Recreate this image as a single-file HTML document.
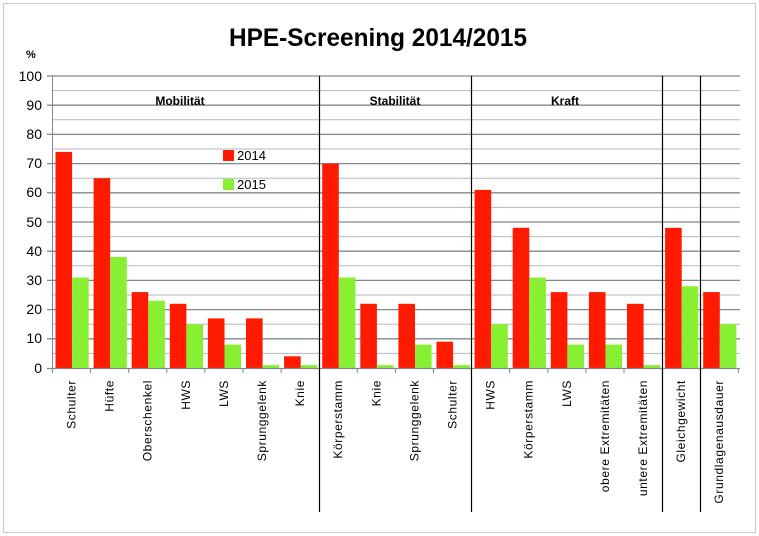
<!DOCTYPE html>
<html><head><meta charset="utf-8"><style>body{margin:0;background:#fff}svg{display:block}</style></head><body>
<svg width="759" height="536" xmlns="http://www.w3.org/2000/svg" font-family="Liberation Sans, sans-serif">
<rect x="3.5" y="3.5" width="752" height="529" fill="#fff" stroke="#c8c8c8"/>
<text x="378" y="46" font-size="25" font-weight="bold" text-anchor="middle" textLength="298" lengthAdjust="spacingAndGlyphs">HPE-Screening 2014/2015</text>
<text x="26" y="58" font-size="11" font-weight="bold">%</text>
<g stroke="#b0b8c0" stroke-width="1">
<line x1="52" x2="740" y1="90.6" y2="90.6"/><line x1="52" x2="740" y1="119.8" y2="119.8"/><line x1="52" x2="740" y1="149" y2="149"/><line x1="52" x2="740" y1="178.2" y2="178.2"/><line x1="52" x2="740" y1="207.4" y2="207.4"/><line x1="52" x2="740" y1="236.6" y2="236.6"/><line x1="52" x2="740" y1="265.8" y2="265.8"/><line x1="52" x2="740" y1="295" y2="295"/><line x1="52" x2="740" y1="324.2" y2="324.2"/><line x1="52" x2="740" y1="353.4" y2="353.4"/>
</g>
<g stroke="#7f8890" stroke-width="1.3">
<line x1="47" x2="740" y1="76" y2="76"/><line x1="47" x2="740" y1="105.2" y2="105.2"/><line x1="47" x2="740" y1="134.4" y2="134.4"/><line x1="47" x2="740" y1="163.6" y2="163.6"/><line x1="47" x2="740" y1="192.8" y2="192.8"/><line x1="47" x2="740" y1="222" y2="222"/><line x1="47" x2="740" y1="251.2" y2="251.2"/><line x1="47" x2="740" y1="280.4" y2="280.4"/><line x1="47" x2="740" y1="309.6" y2="309.6"/><line x1="47" x2="740" y1="338.8" y2="338.8"/>
</g>
<g font-size="14" text-anchor="end" fill="#000">
<text x="42" y="81">100</text><text x="42" y="110">90</text><text x="42" y="139">80</text><text x="42" y="168">70</text><text x="42" y="197">60</text><text x="42" y="227">50</text><text x="42" y="256">40</text><text x="42" y="285">30</text><text x="42" y="314">20</text><text x="42" y="343">10</text><text x="42" y="373">0</text>
</g>
<g font-size="12" font-weight="bold" text-anchor="middle">
<text x="180" y="105">Mobilität</text><text x="395" y="105">Stabilität</text><text x="565" y="105">Kraft</text>
</g>
<g fill="#ff1a00">
<rect x="55.5" y="151.9" width="16.6" height="216.1"/>
<rect x="93.6" y="178.2" width="16.6" height="189.8"/>
<rect x="131.7" y="292.1" width="16.6" height="75.9"/>
<rect x="169.8" y="303.8" width="16.6" height="64.2"/>
<rect x="207.9" y="318.4" width="16.6" height="49.6"/>
<rect x="246" y="318.4" width="16.6" height="49.6"/>
<rect x="284.1" y="356.3" width="16.6" height="11.7"/>
<rect x="322.2" y="163.6" width="16.6" height="204.4"/>
<rect x="360.3" y="303.8" width="16.6" height="64.2"/>
<rect x="398.4" y="303.8" width="16.6" height="64.2"/>
<rect x="436.5" y="341.7" width="16.6" height="26.3"/>
<rect x="474.6" y="189.9" width="16.6" height="178.1"/>
<rect x="512.7" y="227.8" width="16.6" height="140.2"/>
<rect x="550.8" y="292.1" width="16.6" height="75.9"/>
<rect x="588.9" y="292.1" width="16.6" height="75.9"/>
<rect x="627" y="303.8" width="16.6" height="64.2"/>
<rect x="665.1" y="227.8" width="16.6" height="140.2"/>
<rect x="703.2" y="292.1" width="16.6" height="75.9"/>
</g>
<g fill="#88f033">
<rect x="72.1" y="277.5" width="16.6" height="90.5"/>
<rect x="110.2" y="257" width="16.6" height="111"/>
<rect x="148.3" y="300.8" width="16.6" height="67.2"/>
<rect x="186.4" y="324.2" width="16.6" height="43.8"/>
<rect x="224.5" y="344.6" width="16.6" height="23.4"/>
<rect x="262.6" y="365.1" width="16.6" height="2.9"/>
<rect x="300.7" y="365.1" width="16.6" height="2.9"/>
<rect x="338.8" y="277.5" width="16.6" height="90.5"/>
<rect x="376.9" y="365.1" width="16.6" height="2.9"/>
<rect x="415" y="344.6" width="16.6" height="23.4"/>
<rect x="453.1" y="365.1" width="16.6" height="2.9"/>
<rect x="491.2" y="324.2" width="16.6" height="43.8"/>
<rect x="529.3" y="277.5" width="16.6" height="90.5"/>
<rect x="567.4" y="344.6" width="16.6" height="23.4"/>
<rect x="605.5" y="344.6" width="16.6" height="23.4"/>
<rect x="643.6" y="365.1" width="16.6" height="2.9"/>
<rect x="681.7" y="286.2" width="16.6" height="81.8"/>
<rect x="719.8" y="324.2" width="16.6" height="43.8"/>
</g>
<line x1="47" x2="740" y1="368.5" y2="368.5" stroke="#7f8890" stroke-width="1.3"/>
<line x1="52.5" x2="52.5" y1="76" y2="373" stroke="#7f8890"/>
<g stroke="#7f8890">
<line x1="90.6" x2="90.6" y1="368" y2="373"/><line x1="128.7" x2="128.7" y1="368" y2="373"/><line x1="166.8" x2="166.8" y1="368" y2="373"/><line x1="204.9" x2="204.9" y1="368" y2="373"/><line x1="243" x2="243" y1="368" y2="373"/><line x1="281.1" x2="281.1" y1="368" y2="373"/><line x1="357.3" x2="357.3" y1="368" y2="373"/><line x1="395.4" x2="395.4" y1="368" y2="373"/><line x1="433.5" x2="433.5" y1="368" y2="373"/><line x1="509.7" x2="509.7" y1="368" y2="373"/><line x1="547.8" x2="547.8" y1="368" y2="373"/><line x1="585.9" x2="585.9" y1="368" y2="373"/><line x1="624" x2="624" y1="368" y2="373"/><line x1="738.3" x2="738.3" y1="368" y2="373"/>
</g>
<g stroke="#000" stroke-width="1.2">
<line x1="319.5" x2="319.5" y1="76" y2="512"/><line x1="471.5" x2="471.5" y1="76" y2="512"/><line x1="662.5" x2="662.5" y1="76" y2="512"/><line x1="700.5" x2="700.5" y1="76" y2="512"/>
</g>
<rect x="223" y="150" width="11" height="11" fill="#ff1a00"/><text x="237" y="160" font-size="13">2014</text>
<rect x="223" y="179" width="11" height="11" fill="#88f033"/><text x="237" y="189" font-size="13">2015</text>
<g font-size="12" text-anchor="end" letter-spacing="0.6">
<text transform="translate(75.5,380) rotate(-90)">Schulter</text>
<text transform="translate(113.6,380) rotate(-90)">Hüfte</text>
<text transform="translate(151.7,380) rotate(-90)">Oberschenkel</text>
<text transform="translate(189.8,380) rotate(-90)">HWS</text>
<text transform="translate(227.9,380) rotate(-90)">LWS</text>
<text transform="translate(266,380) rotate(-90)">Sprunggelenk</text>
<text transform="translate(304.1,380) rotate(-90)">Knie</text>
<text transform="translate(342.2,380) rotate(-90)">Körperstamm</text>
<text transform="translate(380.3,380) rotate(-90)">Knie</text>
<text transform="translate(418.4,380) rotate(-90)">Sprunggelenk</text>
<text transform="translate(456.5,380) rotate(-90)">Schulter</text>
<text transform="translate(494.6,380) rotate(-90)">HWS</text>
<text transform="translate(532.7,380) rotate(-90)">Körperstamm</text>
<text transform="translate(570.8,380) rotate(-90)">LWS</text>
<text transform="translate(608.9,380) rotate(-90)">obere Extremitäten</text>
<text transform="translate(647,380) rotate(-90)">untere Extremitäten</text>
<text transform="translate(685.1,380) rotate(-90)">Gleichgewicht</text>
<text transform="translate(723.2,380) rotate(-90)">Grundlagenausdauer</text>
</g>
</svg>
</body></html>
